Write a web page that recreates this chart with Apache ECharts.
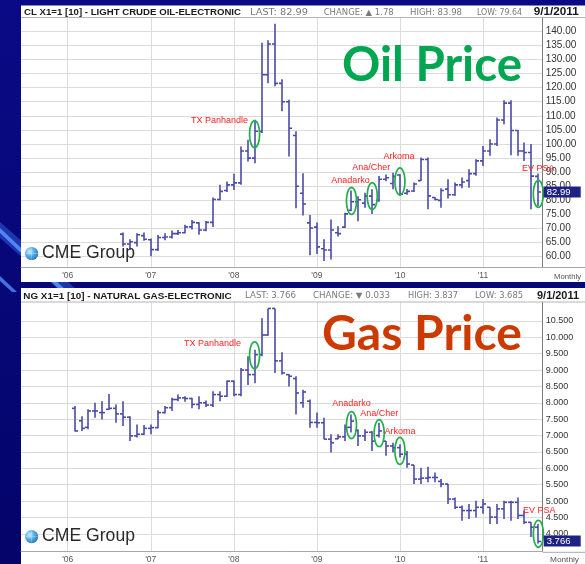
<!DOCTYPE html>
<html>
<head>
<meta charset="utf-8">
<script src="https://cdn.jsdelivr.net/npm/echarts@6/dist/echarts.min.js"></script>
<style>
html,body{margin:0;padding:0;background:#06067a;}
#chart{width:585px;height:564px;}
</style>
</head>
<body>
<div id="chart"></div>
<script>
// ---------------- DATA ----------------
// month index: 0 = Jan 2006
const yearTicks = [0, 12, 24, 36, 48, 60];
const yearLabels = ["'06", "'07", "'08", "'09", "'10", "'11"];
const oilTicks = [60, 65, 70, 75, 80, 85, 90, 95, 100, 105, 110, 115, 120, 125, 130, 135, 140];
const gasTicks = [4.0, 4.5, 5.0, 5.5, 6.0, 6.5, 7.0, 7.5, 8.0, 8.5, 9.0, 9.5, 10.0, 10.5];

// Crude oil monthly bars, Sep 2006 .. Sep 2011
const oilFirstMonth = 8;
const oilOpen  = [68.0,64.5,65.0,67.5,66.0,62.5,66.8,67.0,68.2,68.5,70.6,72.0,69.5,72.2,80.3,83.5,85.5,86.2,97.5,95.0,104.5,124.6,135.5,121.5,115.0,103.0,82.5,72.0,70.5,62.8,62.4,68.5,70.5,76.5,79.5,79.0,81.5,80.0,87.5,86.0,89.0,82.5,83.3,87.0,94.5,81.0,80.0,84.0,82.0,85.5,87.0,89.5,94.0,97.5,100.0,108.5,114.5,104.8,97.5,97.0,88.5];
const oilHigh  = [68.6,66.2,68.3,68.6,66.5,67.7,68.3,69.3,69.5,71.3,73.0,72.2,72.7,81.0,85.5,86.7,89.4,99.1,101.5,108.6,135.9,136.8,142.7,123.0,115.7,104.5,89.6,74.8,72.1,66.2,73.2,70.8,75.6,83.5,81.5,82.7,83.9,88.6,89.2,89.8,89.3,84.0,86.3,95.2,95.2,81.2,84.3,87.5,86.3,88.1,91.0,94.6,99.3,101.7,109.4,115.5,115.5,105.0,100.5,100.0,89.5];
const oilLow   = [63.6,62.4,63.6,65.7,60.2,62.0,65.8,66.5,67.7,68.3,69.7,67.8,69.0,70.5,80.0,83.0,83.7,85.5,93.8,93.2,103.9,121.6,120.5,111.6,95.6,77.2,74.6,60.5,61.0,58.5,59.0,67.2,70.2,76.1,72.6,77.4,75.2,79.5,86.8,83.9,81.6,82.0,83.0,86.9,76.8,80.0,77.4,80.7,81.6,84.3,84.5,88.7,92.2,95.8,99.3,107.0,96.0,95.8,94.0,76.8,78.0];
const oilClose = [64.5,65.3,67.8,66.2,62.5,66.8,67.0,68.2,68.5,70.6,72.2,69.5,72.2,80.3,83.2,85.5,86.2,97.5,95.0,104.5,124.6,135.5,121.5,115.0,105.6,85.0,78.7,70.2,63.5,62.4,69.5,68.2,75.2,79.5,80.2,81.5,78.5,87.5,88.0,88.5,82.2,83.2,85.8,94.5,81.6,80.3,83.5,82.0,85.5,86.5,89.5,94.0,97.5,100.0,108.5,114.5,104.8,97.5,97.0,88.6,82.99];

// Natural gas monthly bars, Feb 2006 .. Sep 2011
const gasFirstMonth = 1;
const gasOpen  = [7.83,7.45,7.25,7.75,7.70,7.80,7.83,7.66,7.56,6.99,7.04,7.22,7.24,7.70,7.85,8.10,8.15,8.13,7.95,8.00,7.93,8.25,8.20,8.66,8.25,9.00,8.86,9.47,10.07,10.88,9.28,8.86,8.74,8.00,8.05,7.40,7.39,6.89,6.90,6.96,7.25,7.15,6.99,7.10,7.00,6.83,6.68,6.63,6.43,6.10,5.67,5.70,5.72,5.60,5.52,5.06,4.81,4.71,4.71,4.81,4.81,4.51,4.76,4.96,4.96,4.56,4.35,4.20];
const gasHigh  = [7.90,7.59,7.80,8.00,8.05,8.27,7.95,8.05,7.59,7.34,7.32,7.34,7.77,7.90,8.15,8.25,8.20,8.15,8.20,8.07,8.35,8.35,8.68,8.68,9.06,9.42,9.62,10.58,10.88,10.88,9.54,8.88,8.81,8.40,8.10,7.70,7.54,7.04,7.04,7.34,7.64,7.19,7.19,7.14,7.39,6.83,6.78,6.73,6.53,6.10,6.02,6.05,5.87,5.67,5.52,5.11,4.86,4.91,5.01,5.06,4.81,4.91,5.01,5.01,5.11,4.71,4.35,4.30];
const gasLow   = [7.12,7.14,7.19,7.54,7.49,7.78,7.39,7.29,6.83,6.94,7.02,7.04,7.22,7.67,7.75,8.05,8.03,7.83,7.80,7.87,7.87,8.05,8.18,8.20,8.20,8.54,8.60,9.42,10.05,8.91,8.86,8.50,7.64,7.85,7.24,7.24,6.89,6.48,6.89,6.83,7.09,6.68,6.83,6.53,6.94,6.38,6.48,6.33,6.02,5.52,5.52,5.57,5.57,5.42,4.91,4.76,4.40,4.45,4.50,4.61,4.30,4.30,4.45,4.40,4.45,4.30,3.90,3.70];
const gasClose = [7.14,7.22,7.75,7.75,7.70,7.83,7.66,7.56,6.99,7.04,7.22,7.24,7.70,7.85,8.10,8.15,8.13,7.95,8.00,7.93,8.25,8.20,8.66,8.25,9.00,8.86,9.47,10.07,10.88,9.28,8.91,8.81,8.30,8.33,7.40,7.39,6.89,6.78,6.96,7.25,7.44,6.99,7.10,6.83,7.14,6.68,6.63,6.43,6.13,5.67,5.70,5.72,5.72,5.52,5.06,4.81,4.71,4.71,4.81,4.91,4.51,4.76,4.96,4.96,4.56,4.35,4.20,3.766];

// Annotations (name, month index, price)
const oilNotes = ['TX Panhandle', 'Anadarko', 'Ana/Cher', 'Arkoma', 'EV PSA'];
const oilNoteMonth = [27, 41, 44, 48, 68];
const oilNoteValue = [103.5, 79.8, 81.5, 86.7, 82.3];
const gasNotes = ['TX Panhandle', 'Anadarko', 'Ana/Cher', 'Arkoma', 'EV PSA'];
const gasNoteMonth = [27, 41, 45, 48, 68];
const gasNoteValue = [9.45, 7.32, 7.07, 6.53, 4.0];

// Last prices
const oilLast = 82.99;
const gasLast = 3.766;

// ---------------- STYLE / LAYOUT ----------------
const BAR_COLOR = '#4a4aa8';
const GRID_COLOR = '#dcdcdc';
const oilNoteOffsets = [[-35, -14], [-1, -20], [-1, -29], [-1, -25], [0, -25]];
const gasNoteOffsets = [[-42, -12], [0, -22], [0, -20], [0, -19.5], [1, -23]];

const chart = echarts.init(document.getElementById('chart'), null, {renderer: 'canvas', width: 585, height: 564});

const measure = document.createElement('canvas').getContext('2d');
function fitText(text, font, left, right, cy, color, z) {
  measure.font = font;
  const w = measure.measureText(text).width;
  return {
    type: 'text', x: left, y: cy, scaleX: (right - left) / w, z: z || 10,
    style: {text: text, font: font, fill: color, align: 'left', verticalAlign: 'middle', textAlign: 'left', textVerticalAlign: 'middle'}
  };
}

function ohlcRows(first, o, h, l, c) {
  return o.map(function (v, i) { return [first + i, v, h[i], l[i], c[i]]; });
}

function ohlcRender(params, api) {
  const m = api.value(0);
  const o = api.coord([m, api.value(1)]);
  const h = api.coord([m, api.value(2)]);
  const l = api.coord([m, api.value(3)]);
  const c = api.coord([m, api.value(4)]);
  const x = Math.round(h[0]);
  const st = {stroke: BAR_COLOR, lineWidth: 1.6};
  return {
    type: 'group',
    children: [
      {type: 'line', shape: {x1: x, y1: h[1], x2: x, y2: l[1]}, style: st},
      {type: 'line', shape: {x1: x - 3, y1: o[1], x2: x, y2: o[1]}, style: st},
      {type: 'line', shape: {x1: x, y1: c[1], x2: x + 3, y2: c[1]}, style: st}
    ]
  };
}

function noteRender(names, offsets) {
  return function (params, api) {
    const p = api.coord([api.value(0), api.value(1)]);
    const pts = [];
    for (let k = 0; k < 40; k++) {
      const a = k / 40 * Math.PI * 2;
      pts.push([p[0] + 5 * Math.cos(a), p[1] + 13.5 * Math.sin(a)]);
    }
    const off = offsets[params.dataIndex];
    return {
      type: 'group',
      children: [
        {type: 'polygon', shape: {points: pts}, style: {fill: 'none', stroke: '#1fb04a', lineWidth: 1.7}},
        {type: 'text', x: p[0] + off[0], y: p[1] + off[1],
         style: {text: names[params.dataIndex], fill: '#ff2020', font: '9px "Liberation Sans", Arial, sans-serif',
                 align: 'center', verticalAlign: 'middle', textAlign: 'center', textVerticalAlign: 'middle'}}
      ]
    };
  };
}

function tagRender(digits) {
  return function (params, api) {
    const v = api.value(1);
    const p = api.coord([api.value(0), v]);
    const cs = params.coordSys;
    const x0 = cs.x + cs.width + 1;
    const yc = Math.round(p[1]);
    return {
      type: 'group',
      children: [
        {type: 'rect', shape: {x: x0, y: yc - 5.5, width: 37, height: 11}, style: {fill: '#1d2283'}},
        {type: 'text', x: x0 + 3, y: yc,
         style: {text: v.toFixed(digits), fill: '#ffffff', font: '9.5px "Liberation Sans", Arial, sans-serif',
                 align: 'left', verticalAlign: 'middle', textAlign: 'left', textVerticalAlign: 'middle'}}
      ]
    };
  };
}

function xAxisCfg(gi) {
  return {
    type: 'value', gridIndex: gi, min: -6.75, max: 68.63,
    axisLine: {show: true, onZero: false, lineStyle: {color: '#a8a8a8', width: 1}},
    axisTick: {show: false, customValues: yearTicks},
    axisLabel: {customValues: yearTicks, formatter: function (v) { return yearLabels[yearTicks.indexOf(v)]; },
                color: '#555', fontSize: 8.5, fontFamily: 'Liberation Sans', margin: 4},
    splitLine: {show: true, lineStyle: {color: GRID_COLOR, width: 1}}
  };
}
function yAxisCfg(gi, min, max, ticks, digits, fs) {
  return {
    type: 'value', gridIndex: gi, position: 'right', min: min, max: max,
    axisLine: {show: true, onZero: false, lineStyle: {color: '#7a7a7a', width: 1}},
    axisTick: {show: false, customValues: ticks},
    axisLabel: {customValues: ticks, formatter: function (v) { return v.toFixed(digits); },
                color: '#333', fontSize: fs, fontFamily: 'Liberation Sans', margin: 3},
    splitLine: {show: true, lineStyle: {color: GRID_COLOR, width: 1}}
  };
}

const HDR_BOLD = 'bold 9.5px "Liberation Sans", Arial, sans-serif';
const HDR_SMALL = '8px "DejaVu Sans", sans-serif';
const HDR_DATE = 'bold 11px "Liberation Sans", Arial, sans-serif';
const BIG = 'bold 48px Lato, "Open Sans", sans-serif';

function globe(cx, cy) {
  return [
    {type: 'circle', shape: {cx: cx, cy: cy, r: 6.6}, z: 20,
     style: {fill: new echarts.graphic.RadialGradient(0.35, 0.35, 0.8, [
       {offset: 0, color: '#c8ecff'}, {offset: 0.45, color: '#56aee6'}, {offset: 1, color: '#1a64ad'}])}},
    {type: 'line', shape: {x1: cx - 6.4, y1: cy, x2: cx + 6.4, y2: cy}, z: 21, style: {stroke: 'rgba(255,255,255,0.45)', lineWidth: 0.6}},
    {type: 'line', shape: {x1: cx, y1: cy - 6.4, x2: cx, y2: cy + 6.4}, z: 21, style: {stroke: 'rgba(255,255,255,0.45)', lineWidth: 0.6}}
  ];
}

const graphics = [
  // background streaks
  {type: 'polygon', z: -30, shape: {points: [[0, 222], [0, 238], [66, 296], [84, 296]]}, style: {fill: 'rgba(50,90,220,0.55)'}},
  {type: 'polygon', z: -29, shape: {points: [[0, 228], [0, 233], [62, 292], [68, 292]]}, style: {fill: '#4f86f0'}},
  {type: 'polygon', z: -29, shape: {points: [[0, 276], [0, 281], [12, 292], [17, 292]]}, style: {fill: '#3f74e0'}},
  // panels
  {type: 'rect', z: -20, shape: {x: 21, y: 5.5, width: 564, height: 276.5}, style: {fill: '#ffffff'}},
  {type: 'rect', z: -20, shape: {x: 21, y: 288, width: 564, height: 276}, style: {fill: '#ffffff'}},
  // header separators and axis extensions
  {type: 'line', z: 5, shape: {x1: 21, y1: 17.5, x2: 585, y2: 17.5}, style: {stroke: '#b4b4b4', lineWidth: 1}},
  {type: 'line', z: 5, shape: {x1: 21, y1: 302, x2: 585, y2: 302}, style: {stroke: '#b4b4b4', lineWidth: 1}},
  {type: 'line', z: 5, shape: {x1: 542.7, y1: 267.5, x2: 585, y2: 267.5}, style: {stroke: '#a8a8a8', lineWidth: 1}},
  {type: 'line', z: 5, shape: {x1: 542.7, y1: 552.3, x2: 585, y2: 552.3}, style: {stroke: '#a8a8a8', lineWidth: 1}},
  // oil header
  fitText('CL X1=1 [10] - LIGHT CRUDE OIL-ELECTRONIC', HDR_BOLD, 24, 241, 12.7, '#1a1a1a'),
  fitText('LAST: 82.99', HDR_SMALL, 250, 308, 12.7, '#7a7a7a'),
  fitText('CHANGE: \u25B2 1.78', HDR_SMALL, 323.7, 393.7, 12.7, '#7a7a7a'),
  fitText('HIGH: 83.98', HDR_SMALL, 410, 462, 12.7, '#7a7a7a'),
  fitText('LOW: 79.64', HDR_SMALL, 477, 522, 12.7, '#7a7a7a'),
  fitText('9/1/2011', HDR_DATE, 533.7, 578.7, 12.2, '#1a1a1a'),
  // gas header
  fitText('NG X1=1 [10] - NATURAL GAS-ELECTRONIC', HDR_BOLD, 23.3, 231.7, 296, '#1a1a1a'),
  fitText('LAST: 3.766', HDR_SMALL, 245, 296, 296, '#7a7a7a'),
  fitText('CHANGE: \u25BC 0.033', HDR_SMALL, 313, 390, 296, '#7a7a7a'),
  fitText('HIGH: 3.837', HDR_SMALL, 408, 458, 296, '#7a7a7a'),
  fitText('LOW: 3.685', HDR_SMALL, 475, 523, 296, '#7a7a7a'),
  fitText('9/1/2011', HDR_DATE, 537, 579, 295.5, '#1a1a1a'),
  // Monthly labels
  fitText('Monthly', '8px "Liberation Sans", Arial, sans-serif', 554, 581, 277, '#555'),
  fitText('Monthly', '8px "Liberation Sans", Arial, sans-serif', 550, 579, 559.5, '#555'),
  // Big titles
  fitText('Oil Price', BIG, 342, 522, 65.5, '#00a650', 15),
  fitText('Gas Price', BIG, 322, 522, 334.6, '#cc3a00', 15),
  // CME logos
  fitText('CME Group', '18px "Liberation Sans", Arial, sans-serif', 42, 135, 253.5, '#2a2a2a', 20),
  fitText('CME Group', '18px "Liberation Sans", Arial, sans-serif', 42, 135, 536.5, '#2a2a2a', 20)
].concat(globe(31.6, 253.5), globe(31.6, 536.7));

const option = {
  backgroundColor: new echarts.graphic.LinearGradient(0, 0, 0, 1, [
    {offset: 0, color: '#0a0a86'}, {offset: 1, color: '#04046a'}]),
  animation: false,
  grid: [
    {left: 21, top: 17.21, width: 521.7, height: 250.29},
    {left: 21, top: 302, width: 521.7, height: 250.3}
  ],
  xAxis: [xAxisCfg(0), xAxisCfg(1)],
  yAxis: [
    yAxisCfg(0, 56.17, 145, oilTicks, 2, 10),
    yAxisCfg(1, 3.4745, 11.077, gasTicks, 3, 9)
  ],
  graphic: {elements: graphics},
  series: [
    {type: 'custom', name: 'Crude Oil', xAxisIndex: 0, yAxisIndex: 0, z: 3, clip: true,
     encode: {x: 0, y: [1, 2, 3, 4]}, renderItem: ohlcRender,
     data: ohlcRows(oilFirstMonth, oilOpen, oilHigh, oilLow, oilClose)},
    {type: 'custom', name: 'Natural Gas', xAxisIndex: 1, yAxisIndex: 1, z: 3, clip: true,
     encode: {x: 0, y: [1, 2, 3, 4]}, renderItem: ohlcRender,
     data: ohlcRows(gasFirstMonth, gasOpen, gasHigh, gasLow, gasClose)},
    {type: 'custom', name: 'Oil notes', xAxisIndex: 0, yAxisIndex: 0, z: 6, clip: false,
     encode: {x: 0, y: 1}, renderItem: noteRender(oilNotes, oilNoteOffsets),
     data: oilNoteMonth.map(function (m, i) { return [m, oilNoteValue[i]]; })},
    {type: 'custom', name: 'Gas notes', xAxisIndex: 1, yAxisIndex: 1, z: 6, clip: false,
     encode: {x: 0, y: 1}, renderItem: noteRender(gasNotes, gasNoteOffsets),
     data: gasNoteMonth.map(function (m, i) { return [m, gasNoteValue[i]]; })},
    {type: 'custom', name: 'Oil last', xAxisIndex: 0, yAxisIndex: 0, z: 7, clip: false,
     encode: {x: 0, y: 1}, renderItem: tagRender(2), data: [[68, oilLast]]},
    {type: 'custom', name: 'Gas last', xAxisIndex: 1, yAxisIndex: 1, z: 7, clip: false,
     encode: {x: 0, y: 1}, renderItem: tagRender(3), data: [[68, gasLast]]}
  ]
};
chart.setOption(option);
</script>
</body>
</html>
